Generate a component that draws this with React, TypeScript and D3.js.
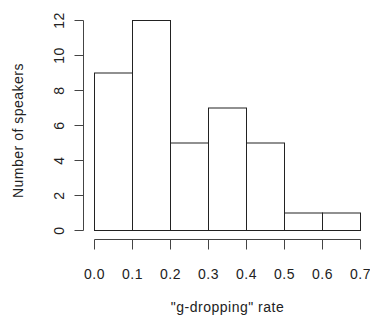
import * as d3 from "d3";

const binStarts = [0.0, 0.1, 0.2, 0.3, 0.4, 0.5, 0.6];
const counts = [9, 12, 5, 7, 5, 1, 1];
const xTicks = [0.0, 0.1, 0.2, 0.3, 0.4, 0.5, 0.6, 0.7];
const yTicks = [0, 2, 4, 6, 8, 10, 12];
const binWidth = 0.1;

export default function App() {
  const width = 370;
  const height = 320;
  const font = "'Liberation Sans', Arial, Helvetica, sans-serif";

  const x = d3.scaleLinear().domain([0, 0.7]).range([94.5, 360.5]);
  const y = d3.scaleLinear().domain([0, 12]).range([230.5, 20.5]);

  const axisY = 239.5;
  const axisX = 83.5;
  const fs = 14;
  const ls = 0.5;

  return (
    <svg
      width={width}
      height={height}
      style={{ position: "absolute", left: 0, top: 0, background: "#fff" }}
      fontFamily={font}
    >
      {/* bars */}
      {binStarts.map((b, i) => (
        <rect
          key={i}
          x={x(b)}
          y={y(counts[i])}
          width={x(b + binWidth) - x(b)}
          height={y(0) - y(counts[i])}
          fill="#fff"
          stroke="#222"
          strokeWidth={1}
        />
      ))}

      {/* x axis */}
      <line x1={x(0)} x2={x(0.7)} y1={axisY} y2={axisY} stroke="#444" />
      {xTicks.map((t) => (
        <g key={t}>
          <line x1={x(t)} x2={x(t)} y1={axisY} y2={axisY + 10} stroke="#444" />
          <text
            x={x(t)}
            y={axisY + 39}
            textAnchor="middle"
            fontSize={fs}
            letterSpacing={ls}
            fill="#222"
          >
            {d3.format(".1f")(t)}
          </text>
        </g>
      ))}

      {/* y axis */}
      <line x1={axisX} x2={axisX} y1={y(0)} y2={y(12)} stroke="#444" />
      {yTicks.map((t) => (
        <g key={t}>
          <line x1={axisX - 9} x2={axisX} y1={y(t)} y2={y(t)} stroke="#444" />
          <text
            transform={`translate(${axisX - 20},${y(t)}) rotate(-90)`}
            textAnchor="middle"
            fontSize={fs}
            letterSpacing={ls}
            fill="#222"
          >
            {t}
          </text>
        </g>
      ))}

      {/* axis titles */}
      <text
        x={(x(0) + x(0.7)) / 2}
        y={312}
        textAnchor="middle"
        fontSize={fs}
        letterSpacing={ls}
        fill="#222"
      >
        "g-dropping" rate
      </text>
      <text
        transform={`translate(23,${(y(0) + y(12)) / 2 + 5}) rotate(-90)`}
        textAnchor="middle"
        fontSize={fs}
        letterSpacing={ls}
        fill="#222"
      >
        Number of speakers
      </text>
    </svg>
  );
}
